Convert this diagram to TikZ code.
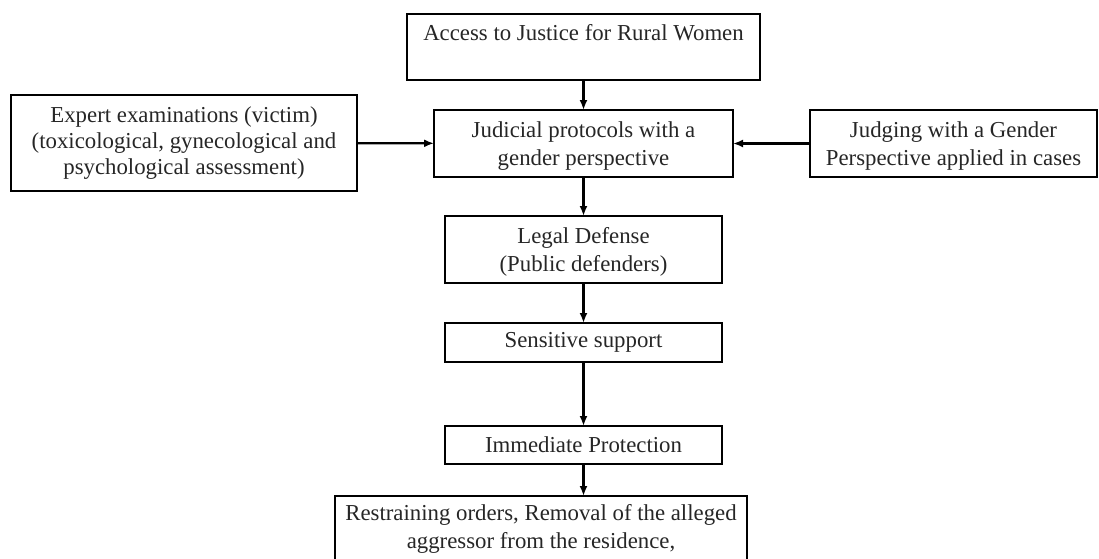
\documentclass[tikz,border=0pt]{standalone}
\usepackage{fontspec}
\setmainfont{Liberation Serif}
\usetikzlibrary{arrows.meta}

\begin{document}
\begin{tikzpicture}[x=1pt, y=-1pt,
    box/.style={draw, line width=1.7pt, inner sep=0pt, outer sep=0pt, align=center,
        font=\fontsize{22.8}{28}\selectfont, text=black!85},
    link/.style={line width=2.2pt, -{Latex[length=10pt, width=8pt]}}]
    \useasboundingbox (0,0) rectangle (1099,558);
    \clip (0,0) rectangle (1099,558);

    \node [box, anchor=base, minimum width=353pt, text height=26pt, text depth=40pt] (access) at (583.5, 40) {Access to Justice for Rural Women};
    \node [box, minimum width=299pt, minimum height=67pt, text depth=0.5pt] (judicial) at (583.5, 143.5) {Judicial protocols with a\\ gender perspective};
    \node [box, minimum width=346pt, minimum height=96pt, font=\fontsize{22.8}{26}\selectfont] (expert) at (184, 143) {Expert examinations (victim)\\ (toxicological, gynecological and\\ psychological assessment)};
    \node [box, minimum width=287pt, minimum height=67pt, text depth=0.5pt] (judging) at (953.5, 143.5) {Judging with a Gender\\ Perspective applied in cases};

    \node [box, minimum width=277pt, minimum height=67pt, text depth=0.5pt] (legal) at (583.5, 249.5) {Legal Defense\\ (Public defenders)};
    \node [box, minimum width=277pt, minimum height=39pt] (support) at (583.5, 342.5) {Sensitive support};
    \node [box, minimum width=277pt, minimum height=38pt] (protection) at (583.5, 445) {Immediate Protection};
    \node [box, anchor=north, minimum width=412pt, inner ysep=8pt, text depth=80pt] (orders) at (541, 496) {Restraining orders, Removal of the alleged\\ aggressor from the residence,};

    \draw [link] (access) -- (judicial);
    \draw [link] (expert) -- (judicial);
    \draw [link] (judging) -- (judicial);
    \draw [link] (judicial) -- (legal);
    \draw [link] (legal) -- (support);
    \draw [link] (support) -- (protection);
    \draw [link] (protection.south) -- (protection.south |- orders.north);
\end{tikzpicture}
\end{document}
